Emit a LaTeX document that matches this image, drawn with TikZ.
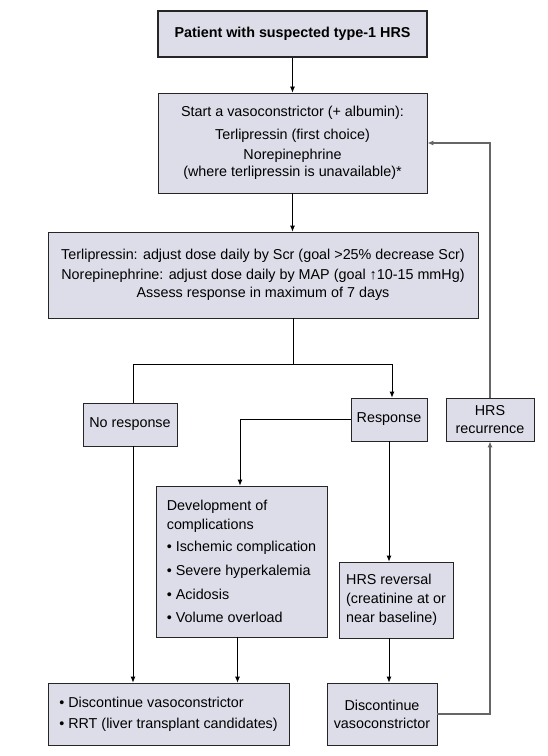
\documentclass[tikz,border=0pt]{standalone}
\usepackage{fontspec}
\setmainfont{Liberation Sans}
\usetikzlibrary{arrows.meta}
\definecolor{boxfill}{HTML}{DCDDE8}
\definecolor{loopgray}{HTML}{666666}
\begin{document}
\begin{tikzpicture}[x=1bp,y=-1bp,
  box/.style={draw=black!85, fill=boxfill, line width=0.8pt, inner sep=0pt,
    align=center, font=\fontsize{14.4}{18}\selectfont},
  leftbox/.style={box, align=left},
  arr/.style={-{Latex[length=6bp,width=5bp]}},
  loopline/.style={draw=loopgray, line width=1.2pt},
  line width=0.8pt]
\useasboundingbox (0,0) rectangle (548,756);
\node[box, minimum width=269bp, minimum height=46bp, line width=1.8pt] (b1) at (292.5,34)
  {\bfseries Patient with suspected type-1 HRS};
\node[box, minimum width=269bp, minimum height=100bp] (b2) at (292.5,143)
  {Start a vasoconstrictor (+ albumin):\\[5pt]
   Terlipressin (first choice)\\[2pt]
   Norepinephrine\\[-1pt]
   (where terlipressin is unavailable)*};
\node[box, minimum width=430bp, minimum height=86bp] (b3) at (263,275)
  {Terlipressin: adjust dose daily by Scr (goal >25\% decrease Scr)\\[2pt]
   Norepinephrine: adjust dose daily by MAP (goal ↑10-15 mmHg)\\
   Assess response in maximum of 7 days};
\node[box, minimum width=94bp, minimum height=43bp] (nr) at (130,424.5) {No response};
\node[box, minimum width=76bp, minimum height=43bp] (rs) at (389,419.5) {Response};
\node[box, minimum width=88bp, minimum height=43bp] (rec) at (490,419.5) {HRS\\recurrence};
\node[leftbox, minimum width=171bp, minimum height=151bp] (dev) at (241.5,561.5)
  {Development of\\[1pt]
   complications\\[4pt]
   • Ischemic complication\\[6pt]
   • Severe hyperkalemia\\[6pt]
   • Acidosis\\[6pt]
   • Volume overload};
\node[leftbox, minimum width=114bp, minimum height=76bp] (rev) at (396,600)
  {HRS reversal\\[1pt]
   (creatinine at or\\[1pt]
   near baseline)};
\node[leftbox, minimum width=241bp, minimum height=62bp] (dl) at (168.5,714)
  {• Discontinue vasoconstrictor\\[3pt]
   • RRT (liver transplant candidates)};
\node[box, minimum width=110bp, minimum height=62bp] (dr) at (382,714)
  {Discontinue\\vasoconstrictor};
\coordinate (split) at (293,364);
\draw[arr] (b1) -- (b2);
\draw[arr] (b2.south) -- (b2.south |- b3.north);
\draw (split |- b3.south) -- (split);
\draw (split) -| ([xshift=3bp]nr.north);
\draw[arr] (split) -| ([xshift=3bp]rs.north);
\draw[arr] (rs.west) -| ([xshift=-1.5bp]dev.north);
\draw[arr] (rs.south) -- (rs.south |- rev.north);
\draw[arr] (rs.south |- rev.south) -- (rs.south |- dr.north);
\draw[arr] ([xshift=3bp]nr.south) -- ([xshift=3bp]nr.south |- dl.north);
\draw[arr] ([xshift=-4bp]dev.south) -- ([xshift=-4bp]dev.south |- dl.north);
\draw[arr, loopline] (dr.east) -| (rec.south);
\draw[arr, loopline] (rec.north) |- (b2.east);
\end{tikzpicture}
\end{document}
